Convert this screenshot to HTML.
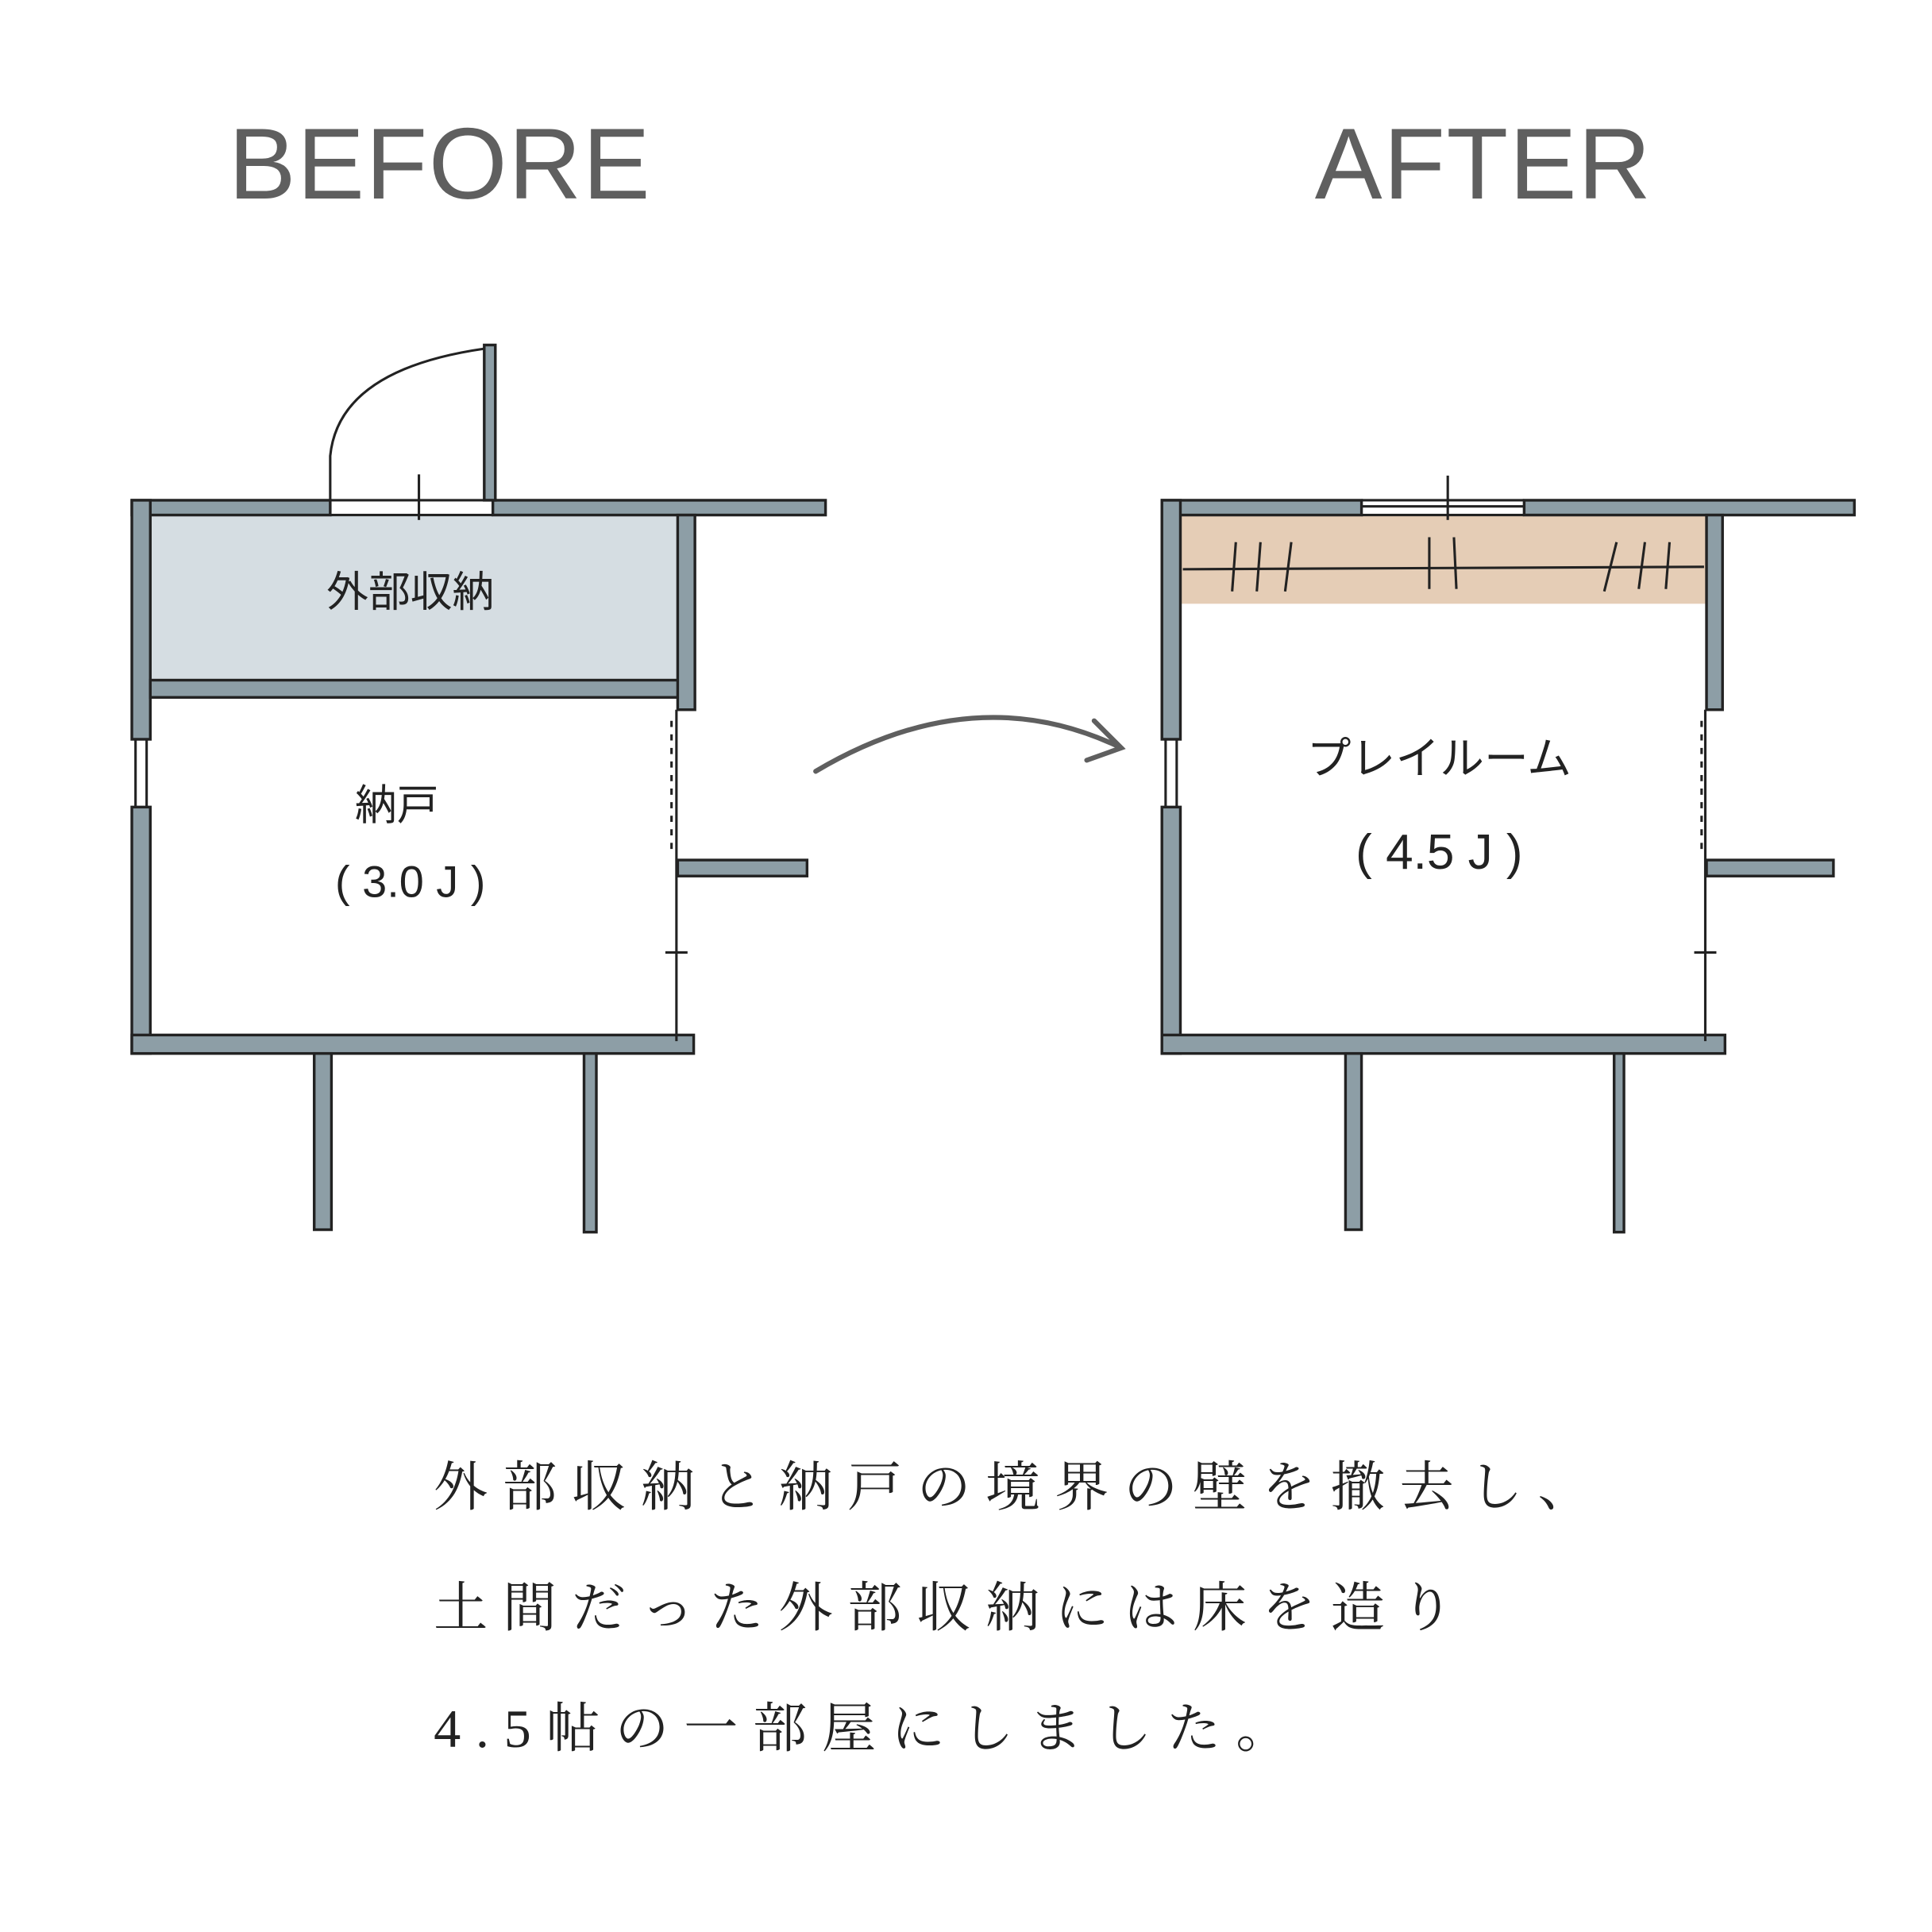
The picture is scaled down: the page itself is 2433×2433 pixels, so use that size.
<!DOCTYPE html>
<html><head><meta charset="utf-8"><style>
html,body{margin:0;padding:0;background:#fff}
svg{display:block}
</style></head><body>
<svg width="2433" height="2433" viewBox="0 0 1568 1568" xmlns="http://www.w3.org/2000/svg">
<rect width="1568" height="1568" fill="#fff"/>
<g font-family="'Liberation Sans','DejaVu Sans',sans-serif" fill="#5f5f5f" font-size="82" text-anchor="middle" letter-spacing="1">
<text x="357" y="161">BEFORE</text>
<text x="1204" y="161">AFTER</text>
</g>
<g stroke="#222" stroke-width="2.2" fill="#8d9ea6">
<rect x="122" y="418" width="430" height="134" fill="#d5dde2" stroke="none"/>
<rect x="107" y="406" width="161" height="12"/>
<rect x="400" y="406" width="270" height="12"/>
<rect x="107" y="406" width="15" height="194"/>
<rect x="107" y="655" width="15" height="200"/>
<rect x="122" y="552" width="430" height="14"/>
<rect x="550" y="418" width="14" height="158"/>
<rect x="550" y="698" width="105" height="13"/>
<rect x="107" y="840" width="456" height="15"/>
<rect x="255" y="855" width="14" height="143"/>
<rect x="474" y="855" width="10" height="145"/>
<rect x="393" y="280" width="9" height="126"/>
</g>
<g stroke="#222" stroke-width="2" fill="none">
<line x1="268" y1="406" x2="400" y2="406"/><line x1="268" y1="418" x2="400" y2="418"/>
<line x1="340" y1="385" x2="340" y2="422"/>
<path d="M268 406 L268 370 Q275 300 393 283"/>
<line x1="110" y1="600" x2="110" y2="655"/><line x1="119" y1="600" x2="119" y2="655"/>
<line x1="549" y1="576" x2="549" y2="845"/>
<line x1="545" y1="585" x2="545" y2="690" stroke-dasharray="5 6"/>
<line x1="540" y1="773" x2="558" y2="773"/>
</g>
<g stroke="#222" stroke-width="2.2" fill="#8d9ea6">
<rect x="958" y="418" width="427" height="72" fill="#e5cdb6" stroke="none"/>
<rect x="943" y="406" width="162" height="12"/>
<rect x="1237" y="406" width="268" height="12"/>
<rect x="943" y="406" width="15" height="194"/>
<rect x="943" y="655" width="15" height="200"/>
<rect x="1385" y="418" width="13" height="158"/>
<rect x="1385" y="698" width="103" height="13"/>
<rect x="943" y="840" width="457" height="15"/>
<rect x="1092" y="855" width="13" height="143"/>
<rect x="1310" y="855" width="8" height="145"/>
</g>
<g stroke="#222" stroke-width="2" fill="none">
<line x1="1105" y1="406" x2="1237" y2="406"/><line x1="1105" y1="418" x2="1237" y2="418"/>
<line x1="1105" y1="411" x2="1237" y2="411"/>
<line x1="1175" y1="386" x2="1175" y2="422"/>
<line x1="946" y1="600" x2="946" y2="655"/><line x1="955" y1="600" x2="955" y2="655"/>
<line x1="1384" y1="576" x2="1384" y2="845"/>
<line x1="1381" y1="585" x2="1381" y2="690" stroke-dasharray="5 6"/>
<line x1="1375" y1="773" x2="1393" y2="773"/>
<line x1="960" y1="462" x2="1383" y2="460"/>
<line x1="1003" y1="440" x2="1000" y2="480"/><line x1="1023" y1="440" x2="1020" y2="480"/><line x1="1048" y1="440" x2="1043" y2="480"/>
<line x1="1160" y1="436" x2="1160" y2="478"/><line x1="1180" y1="436" x2="1182" y2="478"/>
<line x1="1312" y1="440" x2="1302" y2="480"/><line x1="1335" y1="440" x2="1330" y2="478"/><line x1="1355" y1="440" x2="1352" y2="478"/>
</g>
<g stroke="#5f5f5f" stroke-width="4" fill="none" stroke-linecap="round">
<path d="M662 626 Q790 550 908 606"/>
<path d="M888 585 L910 607 L882 617"/>
</g>
<g font-family="'Liberation Sans','Noto Sans CJK JP',sans-serif" fill="#222" text-anchor="middle">
<text x="333" y="492" font-size="34">外部収納</text>
<text x="322" y="665" font-size="34">納戸</text>
<text x="333" y="728" font-size="36">( 3.0 J )</text>
<text x="1168" y="628" font-size="36">プレイルーム</text>
<text x="1168" y="705" font-size="40">( 4.5 J )</text>
</g>
<g font-family="'Liberation Serif','Noto Serif CJK JP','Noto Serif CJK SC',serif" fill="#222" font-size="44" letter-spacing="12">
<text x="352" y="1222">外部収納と納戸の境界の壁を撤去し、</text>
<text x="352" y="1320">土間だった外部収納には床を造り</text>
<text x="352" y="1418">4.5帖の一部屋にしました。</text>
</g>
</svg>
</body></html>
